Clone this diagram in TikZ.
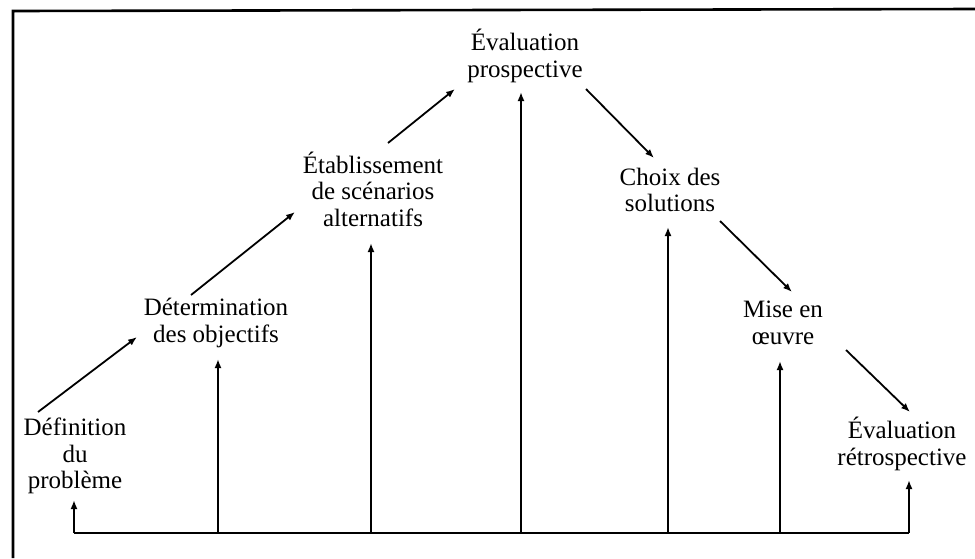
\documentclass[tikz,border=0pt]{standalone}
\usepackage{fontspec}
\setmainfont{Liberation Serif}
\usetikzlibrary{arrows.meta}
\begin{document}
\begin{tikzpicture}[x=1pt,y=-1pt,
  lbl/.style={align=center,inner sep=0pt,font=\fontsize{25}{26.5}\selectfont},
  arr/.style={line width=1.8pt,-{Latex[length=9pt,width=7pt]}},
  bus/.style={line width=2.2pt},
  frame/.style={line width=2.6pt}]
\useasboundingbox (0,0) rectangle (975,558);
% frame (top and left edges only)
\draw[frame] (975,9) -- (13,11) -- (13,558);
% text nodes
\node[lbl] (def) at (75,456) {Définition\\du\\problème};
\node[lbl] (det) at (216,323) {Détermination\\des objectifs};
\node[lbl] (eta) at (373,189) {Établissement\\de scénarios\\alternatifs};
\node[lbl] (evp) at (525,56) {Évaluation\\prospective};
\node[lbl] (cho) at (670,190) {Choix des\\solutions};
\node[lbl] (mis) at (783,323) {Mise en\\œuvre};
\node[lbl] (evr) at (902,444) {Évaluation\\rétrospective};
% bus coordinates
\coordinate (b1) at (74,533);
\coordinate (b2) at (218,533);
\coordinate (b3) at (371,533);
\coordinate (b4) at (521,533);
\coordinate (b5) at (668,533);
\coordinate (b6) at (780,533);
\coordinate (b7) at (909,533);
% vertical arrow tips
\coordinate (t1) at (74,500);
\coordinate (t2) at (218,359);
\coordinate (t3) at (371,243);
\coordinate (t4) at (521,92);
\coordinate (t5) at (668,227);
\coordinate (t6) at (780,361);
\coordinate (t7) at (909,480);
\draw[bus] (b1) -- (b7);
\foreach \i in {1,...,7} \draw[arr] (b\i) -- (t\i);
% diagonal arrow endpoints
\coordinate (s1) at (38,412);  \coordinate (e1) at (137,337);
\coordinate (s2) at (191,295); \coordinate (e2) at (295,212);
\coordinate (s3) at (388,143); \coordinate (e3) at (455,89);
\coordinate (s4) at (586,89);  \coordinate (e4) at (654,158);
\coordinate (s5) at (720,221); \coordinate (e5) at (792,292);
\coordinate (s6) at (846,350); \coordinate (e6) at (910,412);
\foreach \i in {1,...,6} \draw[arr] (s\i) -- (e\i);
\end{tikzpicture}
\end{document}
